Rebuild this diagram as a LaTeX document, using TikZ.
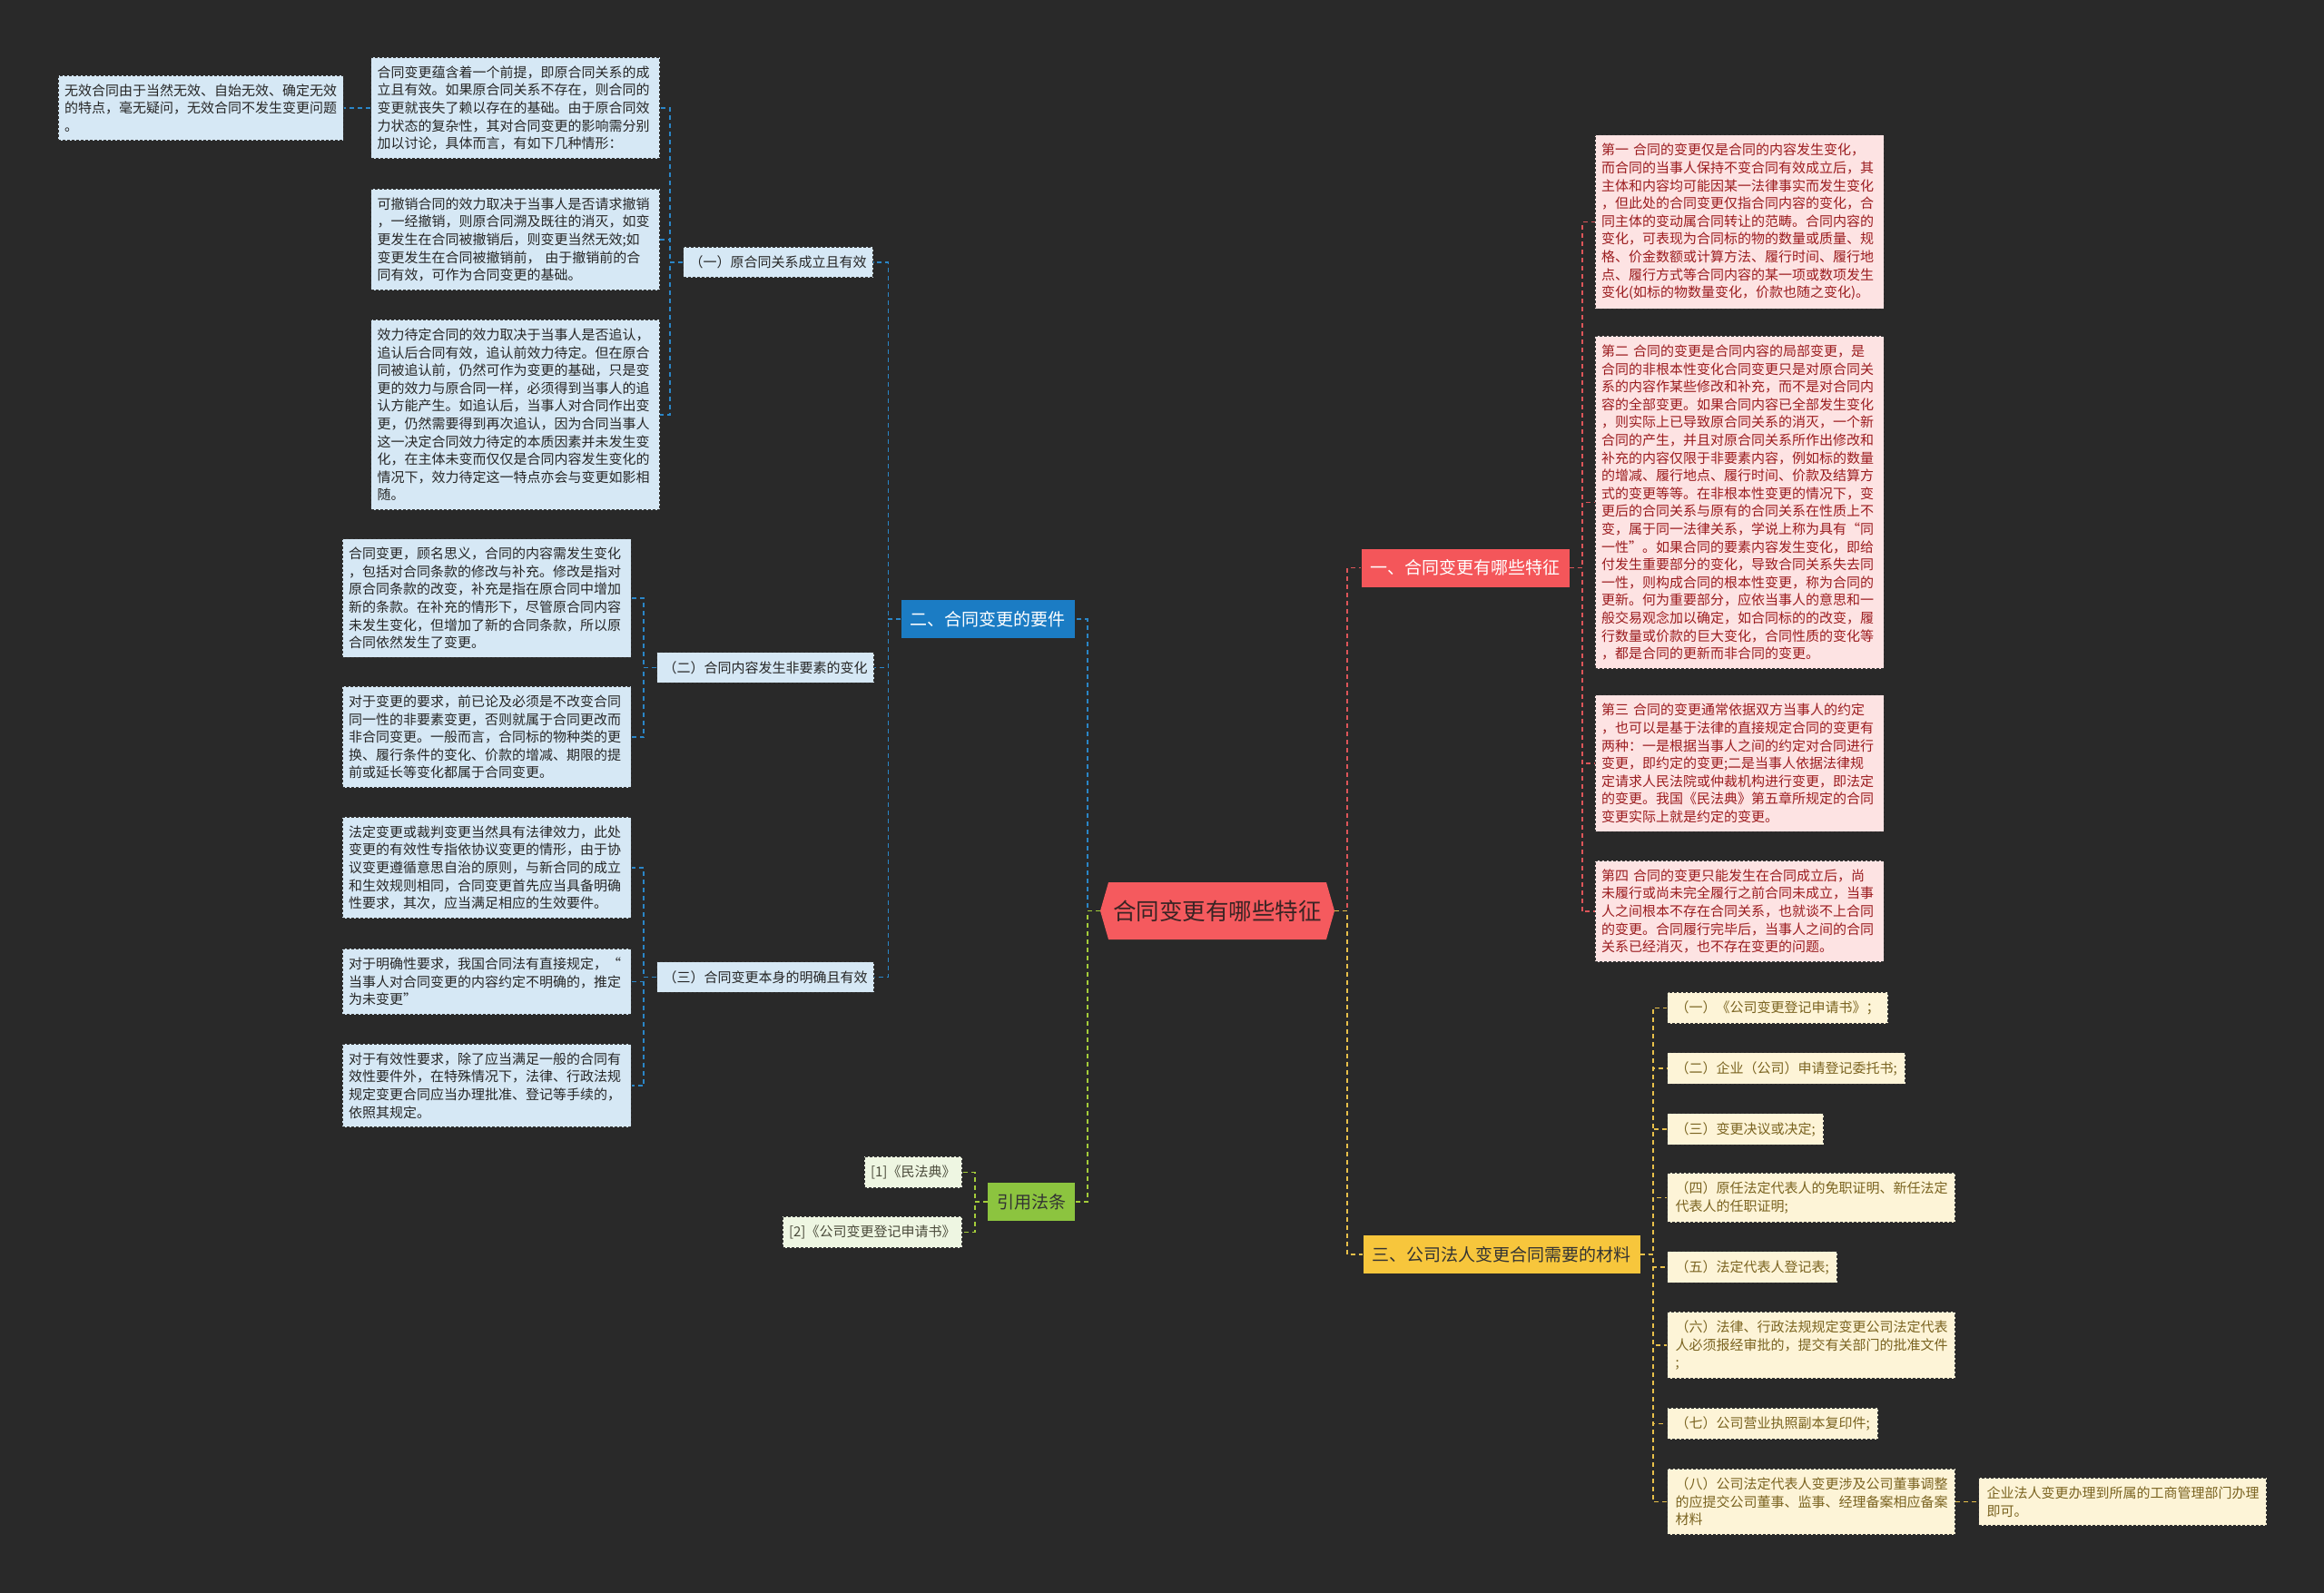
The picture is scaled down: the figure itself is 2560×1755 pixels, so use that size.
\documentclass[tikz,border=0pt]{standalone}
\usepackage{fontspec}
\setmainfont{Noto Sans CJK SC}
\usepackage{xcolor}
\usetikzlibrary{shapes.symbols}

\definecolor{bgdark}{HTML}{292929}
\definecolor{hubred}{HTML}{F55A5E}
\definecolor{hubtext}{HTML}{3A2424}
\definecolor{topred}{HTML}{F4565A}
\definecolor{topblue}{HTML}{1B7CC4}
\definecolor{topyellow}{HTML}{F7C63C}
\definecolor{topgreen}{HTML}{8CC43F}
\definecolor{leafblue}{HTML}{D6E8F5}
\definecolor{leafpink}{HTML}{FDE3E3}
\definecolor{pinktext}{HTML}{9B1C1F}
\definecolor{leafyellow}{HTML}{FDF4D7}
\definecolor{yellowtext}{HTML}{7A6320}
\definecolor{leafgreen}{HTML}{EEF6E2}
\definecolor{greentext}{HTML}{4B4B3B}
\definecolor{linered}{HTML}{DD5559}
\definecolor{lineblue}{HTML}{2A86C8}
\definecolor{linegreen}{HTML}{A4CC3A}
\definecolor{lineyellow}{HTML}{E8C04A}

\begin{document}
\begin{tikzpicture}[x=1pt, y=-1pt,
  hub/.style={shape=signal, signal to=west and east, signal pointer angle=148,
              fill=hubred, minimum width=258pt, minimum height=63pt, inner xsep=2pt,
              font=\fontsize{25.5}{30}\selectfont, text=hubtext},
  topic/.style={rectangle, minimum height=42pt, inner xsep=10pt,
                font=\fontsize{19}{23}\selectfont},
  leaf/.style={rectangle, draw=black!80, dash pattern=on 3pt off 2pt, line width=1pt,
               inner xsep=7pt, inner ysep=9.5pt, align=left,
               font=\fontsize{15}{19.6}\selectfont},
  note/.style={leaf, text width=304pt},
  blueleaf/.style={fill=leafblue, text=black!85},
  pinkleaf/.style={fill=leafpink, text=pinktext},
  yellowleaf/.style={fill=leafyellow, text=yellowtext, inner xsep=9pt},
  yellownote/.style={leaf, yellowleaf, text width=299pt, inner xsep=9pt},
  greenleaf/.style={fill=leafgreen, text=greentext},
  link/.style={dash pattern=on 5pt off 4pt, line width=1.6pt},
]
  \fill[bgdark] (0,0) rectangle (2560,1755);
  \useasboundingbox (0,0) rectangle (2560,1755);

  % centre and main topics
  \node[hub] (hub) at (1341,1003.5) {合同变更有哪些特征};
  \node[topic, fill=topred, text=white] (t1) at (1614,625.5) {一、合同变更有哪些特征};
  \node[topic, fill=topblue, text=white] (t2) at (1088,682) {二、合同变更的要件};
  \node[topic, fill=topyellow, text=black!80] (t3) at (1654,1382) {三、公司法人变更合同需要的材料};
  \node[topic, fill=topgreen, text=black!80] (t4) at (1136,1324) {引用法条};

  % 二 branch
  \node[leaf, blueleaf] (ra) at (857,289) {（一）原合同关系成立且有效};
  \node[leaf, blueleaf] (rb) at (843,735.5) {（二）合同内容发生非要素的变化};
  \node[leaf, blueleaf] (rc) at (843,1076.5) {（三）合同变更本身的明确且有效};

  \node[note, blueleaf] (a1) at (567.5,119) {合同变更蕴含着一个前提，即原合同关系的成\\立且有效。如果原合同关系不存在，则合同的\\变更就丧失了赖以存在的基础。由于原合同效\\力状态的复杂性，其对合同变更的影响需分别\\加以讨论，具体而言，有如下几种情形：};
  \node[leaf, blueleaf, text width=300pt] (a0) at (221,119) {无效合同由于当然无效、自始无效、确定无效\\的特点，毫无疑问，无效合同不发生变更问题\\。};
  \node[note, blueleaf] (a2) at (567.5,264) {可撤销合同的效力取决于当事人是否请求撤销\\，一经撤销，则原合同溯及既往的消灭，如变\\更发生在合同被撤销后，则变更当然无效;如\\变更发生在合同被撤销前，~由于撤销前的合\\同有效，可作为合同变更的基础。};
  \node[note, blueleaf] (a3) at (567.5,457) {效力待定合同的效力取决于当事人是否追认，\\追认后合同有效，追认前效力待定。但在原合\\同被追认前，仍然可作为变更的基础，只是变\\更的效力与原合同一样，必须得到当事人的追\\认方能产生。如追认后，当事人对合同作出变\\更，仍然需要得到再次追认，因为合同当事人\\这一决定合同效力待定的本质因素并未发生变\\化，在主体未变而仅仅是合同内容发生变化的\\情况下，效力待定这一特点亦会与变更如影相\\随。};

  \node[note, blueleaf] (b1) at (536,659) {合同变更，顾名思义，合同的内容需发生变化\\，包括对合同条款的修改与补充。修改是指对\\原合同条款的改变，补充是指在原合同中增加\\新的条款。在补充的情形下，尽管原合同内容\\未发生变化，但增加了新的合同条款，所以原\\合同依然发生了变更。};
  \node[note, blueleaf] (b2) at (536,812) {对于变更的要求，前已论及必须是不改变合同\\同一性的非要素变更，否则就属于合同更改而\\非合同变更。一般而言，合同标的物种类的更\\换、履行条件的变化、价款的增减、期限的提\\前或延长等变化都属于合同变更。};

  \node[note, blueleaf] (c1) at (536,956) {法定变更或裁判变更当然具有法律效力，此处\\变更的有效性专指依协议变更的情形，由于协\\议变更遵循意思自治的原则，与新合同的成立\\和生效规则相同，合同变更首先应当具备明确\\性要求，其次，应当满足相应的生效要件。};
  \node[note, blueleaf] (c2) at (536,1081.5) {对于明确性要求，我国合同法有直接规定，“\\当事人对合同变更的内容约定不明确的，推定\\为未变更”};
  \node[note, blueleaf] (c3) at (536,1196) {对于有效性要求，除了应当满足一般的合同有\\效性要件外，在特殊情况下，法律、行政法规\\规定变更合同应当办理批准、登记等手续的，\\依照其规定。};

  % 一 branch
  \node[note, pinkleaf] (p1) at (1916,244.5) {第一~合同的变更仅是合同的内容发生变化，\\而合同的当事人保持不变合同有效成立后，其\\主体和内容均可能因某一法律事实而发生变化\\，但此处的合同变更仅指合同内容的变化，合\\同主体的变动属合同转让的范畴。合同内容的\\变化，可表现为合同标的物的数量或质量、规\\格、价金数额或计算方法、履行时间、履行地\\点、履行方式等合同内容的某一项或数项发生\\变化(如标的物数量变化，价款也随之变化)。};
  \node[note, pinkleaf] (p2) at (1916,553.5) {第二~合同的变更是合同内容的局部变更，是\\合同的非根本性变化合同变更只是对原合同关\\系的内容作某些修改和补充，而不是对合同内\\容的全部变更。如果合同内容已全部发生变化\\，则实际上已导致原合同关系的消灭，一个新\\合同的产生，并且对原合同关系所作出修改和\\补充的内容仅限于非要素内容，例如标的数量\\的增减、履行地点、履行时间、价款及结算方\\式的变更等等。在非根本性变更的情况下，变\\更后的合同关系与原有的合同关系在性质上不\\变，属于同一法律关系，学说上称为具有“同\\一性”。如果合同的要素内容发生变化，即给\\付发生重要部分的变化，导致合同关系失去同\\一性，则构成合同的根本性变更，称为合同的\\更新。何为重要部分，应依当事人的意思和一\\般交易观念加以确定，如合同标的的改变，履\\行数量或价款的巨大变化，合同性质的变化等\\，都是合同的更新而非合同的变更。};
  \node[note, pinkleaf] (p3) at (1916,841) {第三~合同的变更通常依据双方当事人的约定\\，也可以是基于法律的直接规定合同的变更有\\两种：一是根据当事人之间的约定对合同进行\\变更，即约定的变更;二是当事人依据法律规\\定请求人民法院或仲裁机构进行变更，即法定\\的变更。我国《民法典》第五章所规定的合同\\变更实际上就是约定的变更。};
  \node[note, pinkleaf] (p4) at (1916,1004) {第四~合同的变更只能发生在合同成立后，尚\\未履行或尚未完全履行之前合同未成立，当事\\人之间根本不存在合同关系，也就谈不上合同\\的变更。合同履行完毕后，当事人之间的合同\\关系已经消灭，也不存在变更的问题。};

  % 三 branch
  \node[leaf, yellowleaf, anchor=west] (y1) at (1836,1110.5) {（一）《公司变更登记申请书》；};
  \node[leaf, yellowleaf, anchor=west] (y2) at (1836,1177) {（二）企业（公司）申请登记委托书;};
  \node[leaf, yellowleaf, anchor=west] (y3) at (1836,1244) {（三）变更决议或决定;};
  \node[yellownote, anchor=west] (y4) at (1836,1319.5) {（四）原任法定代表人的免职证明、新任法定\\代表人的任职证明;};
  \node[leaf, yellowleaf, anchor=west] (y5) at (1836,1396) {（五）法定代表人登记表;};
  \node[yellownote, anchor=west] (y6) at (1836,1482) {（六）法律、行政法规规定变更公司法定代表\\人必须报经审批的，提交有关部门的批准文件\\;};
  \node[leaf, yellowleaf, anchor=west] (y7) at (1836,1568.5) {（七）公司营业执照副本复印件;};
  \node[yellownote, anchor=west] (y8) at (1836,1654.5) {（八）公司法定代表人变更涉及公司董事调整\\的应提交公司董事、监事、经理备案相应备案\\材料};
  \node[yellownote, anchor=west] (y9) at (2179,1654.5) {企业法人变更办理到所属的工商管理部门办理\\即可。};

  % 引用法条 branch
  \node[leaf, greenleaf, anchor=east] (g1) at (1060,1291.5) {[1]《民法典》};
  \node[leaf, greenleaf, anchor=east] (g2) at (1060,1357.5) {[2]《公司变更登记申请书》};

  % connectors
  \draw[link, linered] (hub.east) -- ++(14,0) |- (t1.west);
  \draw[link, lineyellow] (hub.east) -- ++(14,0) |- (t3.west);
  \draw[link, lineblue] (hub.west) -- ++(-14,0) |- (t2.east);
  \draw[link, linegreen] (hub.west) -- ++(-14,0) |- (t4.east);

  \foreach \k in {p1,p2,p3,p4}
    \draw[link, linered] (t1.east) -- ++(14,0) |- (\k.west);
  \foreach \k in {ra,rb,rc}
    \draw[link, lineblue] (t2.west) -- ++(-14,0) |- (\k.east);
  \foreach \k in {a1,a2,a3}
    \draw[link, lineblue] (ra.west) -- ++(-14,0) |- (\k.east);
  \draw[link, lineblue] (a1.west) -- (a0.east);
  \foreach \k in {b1,b2}
    \draw[link, lineblue] (rb.west) -- ++(-14,0) |- (\k.east);
  \foreach \k in {c1,c2,c3}
    \draw[link, lineblue] (rc.west) -- ++(-14,0) |- (\k.east);
  \foreach \k in {y1,y2,y3,y4,y5,y6,y7,y8}
    \draw[link, lineyellow] (t3.east) -- ++(14,0) |- (\k.west);
  \draw[link, lineyellow] (y8.east) -- (y9.west);
  \foreach \k in {g1,g2}
    \draw[link, linegreen] (t4.west) -- ++(-14,0) |- (\k.east);
\end{tikzpicture}
\end{document}
